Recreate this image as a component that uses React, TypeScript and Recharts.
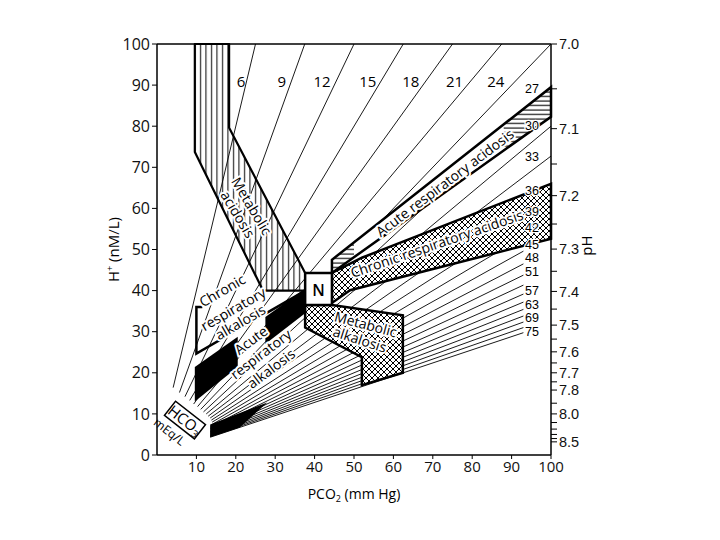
import React from 'react';
import { ComposedChart, XAxis, YAxis, ReferenceLine, ReferenceArea, Label } from 'recharts';

// HCO3- isopleths, mEq/L (one every 3)
const hco3Lines = [6, 9, 12, 15, 18, 21, 24, 27, 30, 33, 36, 39, 42, 45, 48, 51, 54, 57, 60, 63, 66, 69, 72, 75];
// PCO2 where each isopleth begins (next to the HCO3 box) and where it stops
const isoStart = [4.1, 5.7, 7.1, 8.3, 9.3, 10.3, 11.1, 11.8, 12.5, 13.0, 13.5, 13.8, 14.0, 14.0, 13.5, 13.5, 13.5, 13.5, 13.5, 13.5, 13.5, 13.5, 13.5, 13.5];
const isoEnd = [25, 37.5, 50, 62.5, 75, 87.5, 100, 100, 100, 100, 93, 93, 93, 93, 93, 93, 93, 93, 93, 93, 93, 93, 93, 93];

const topLabels = ['6', '9', '12', '15', '18', '21', '24'];
const topLabelP = [21.3, 31.7, 41.9, 53.5, 64.4, 75.5, 86];
const rightLabels = ['27', '30', '33', '36', '39', '42', '45', '48', '51', '57', '63', '69', '75'];
const rightLabelH = [89, 80, 72.5, 64.2, 59.2, 55.2, 51.2, 47.9, 44.6, 39.8, 36.6, 33.3, 29.9];

const xTicks = [10, 20, 30, 40, 50, 60, 70, 80, 90, 100];
const yTicks = [0, 10, 20, 30, 40, 50, 60, 70, 80, 90, 100];
const phLabels = ['7.0', '7.1', '7.2', '7.3', '7.4', '7.5', '7.6', '7.7', '7.8', '8.0', '8.5'];
const phTickH = [100, 79.4, 63.1, 50.1, 39.8, 31.6, 25.1, 20, 15.8, 10, 3.2];
const phMinorH = [89.1, 70.8, 56.2, 44.7, 35.5, 28.2, 22.4, 17.8, 12.6, 7.9, 6.3, 5.0, 4.0];

// regions, [PCO2, H+]
const metAcidosis = [[9.6, 100], [18.3, 100], [18.3, 79.6], [37.6, 44.3], [37.6, 40], [26.9, 40], [9.6, 73.7]];
const nBox = [[37.6, 36.5], [44.4, 36.5], [44.4, 44.3], [37.6, 44.3]];
const acuteAcidosis = [[44.4, 44.3], [44.4, 47.5], [100, 89.5], [100, 82.3]];
const acuteAcidosisHatchA = [[44.4, 44.3], [44.4, 47.5], [50, 51.7], [50, 48.1]];
const acuteAcidosisHatchB = [[88, 74.1], [88, 80.4], [100, 89.5], [100, 82.3]];
const chronicAcidosis = [[44.4, 37], [44.4, 44.3], [52, 48], [100, 66], [100, 52.6], [49, 40.1]];
const metAlkalosis = [[37.6, 36.5], [44.4, 36.5], [62.4, 34], [62.4, 20], [52, 17], [52, 23.8], [37.6, 31]];
const chronicAlkalosis = [[11.5, 36], [10, 36], [10, 24.7], [37.1, 39.7]];
const acuteAlkalosisA = [[9.6, 13], [9.6, 21.4], [20.5, 28.8], [20.5, 21.4]];
const acuteAlkalosisB = [[27.5, 27], [27.5, 33.6], [37.6, 40.5], [37.6, 34.5]];
const denseWedge = [[13.5, 7.4], [28, 12.8], [21, 6.7], [13.5, 4.3]];

const font = '"Open Sans", "DejaVu Sans", sans-serif';
const numFont = '"Liberation Sans", Arial, sans-serif';

const regionText = [
  { t: 'Acute respiratory acidosis', p: 73, h: 66.3, a: -37 },
  { t: 'Chronic respiratory acidosis', p: 71, h: 51.5, a: -19 },
  { t: 'Chronic', p: 16.5, h: 40.1, a: -30 },
  { t: 'respiratory', p: 19.3, h: 35.6, a: -30 },
  { t: 'alkalosis', p: 21.1, h: 32.4, a: -30 },
  { t: 'Acute', p: 23.8, h: 28, a: -37 },
  { t: 'respiratory', p: 26.3, h: 24.6, a: -37 },
  { t: 'alkalosis', p: 28.9, h: 21.1, a: -37 },
  { t: 'Metabolic', p: 24.1, h: 60.6, a: 59 },
  { t: 'acidosis', p: 20.6, h: 58.6, a: 59 },
  { t: 'Metabolic', p: 53, h: 31.9, a: 15 },
  { t: 'alkalosis', p: 51.5, h: 28.2, a: 18 },
];

const halo = { paintOrder: 'stroke', stroke: '#fff', strokeWidth: 4, strokeLinejoin: 'round' } as any;
const haloThin = { paintOrder: 'stroke', stroke: '#fff', strokeWidth: 2.5, strokeLinejoin: 'round' } as any;

function Overlay(props: any) {
  const { x, y, width, height } = props;
  const sx = (p: number) => x + (p / 100) * width;
  const sy = (h: number) => y + height - (h / 100) * height;
  const pts = (arr: number[][]) => arr.map(([p, h]) => `${sx(p)},${sy(h)}`).join(' ');
  return (
    <g>
      <defs>
        <pattern id="vh" width="5.5" height="6" patternUnits="userSpaceOnUse">
          <line x1="2.5" y1="0" x2="2.5" y2="6" stroke="#000" strokeWidth="1" />
        </pattern>
        <pattern id="hh" width="6" height="4.5" patternUnits="userSpaceOnUse">
          <line x1="0" y1="2" x2="6" y2="2" stroke="#000" strokeWidth="1.1" />
        </pattern>
        <pattern id="xh" width="6" height="6" patternUnits="userSpaceOnUse">
          <path d="M0,0 L6,6 M6,0 L0,6" stroke="#000" strokeWidth="1" />
        </pattern>
      </defs>
      <polygon points={pts(denseWedge)} fill="#000" />
      <polygon points={pts(metAcidosis)} fill="url(#vh)" stroke="#000" strokeWidth={2.2} strokeLinejoin="round" />
      <polygon points={pts(acuteAcidosis)} fill="#fff" stroke="#000" strokeWidth={2.5} />
      <polygon points={pts(acuteAcidosisHatchA)} fill="url(#hh)" />
      <polygon points={pts(acuteAcidosisHatchB)} fill="url(#hh)" />
      <polygon points={pts(chronicAcidosis)} fill="#fff" />
      <polygon points={pts(chronicAcidosis)} fill="url(#xh)" stroke="#000" strokeWidth={2.5} />
      <polygon points={pts(metAlkalosis)} fill="#fff" />
      <polygon points={pts(metAlkalosis)} fill="url(#xh)" stroke="#000" strokeWidth={2.5} />
      <polyline points={pts(chronicAlkalosis)} fill="none" stroke="#000" strokeWidth={2.5} />
      <polygon points={pts(acuteAlkalosisA)} fill="#000" />
      <polygon points={pts(acuteAlkalosisB)} fill="#000" />
      <polygon points={pts(nBox)} fill="#fff" stroke="#000" strokeWidth={2.5} />
      <text x={sx(41)} y={sy(40.2)} textAnchor="middle" dominantBaseline="central" fontFamily={font} fontSize={16} fontWeight={600}>N</text>

      {regionText.map((r, i) => (
        <text key={i} x={sx(r.p)} y={sy(r.h)} textAnchor="middle" dominantBaseline="central"
          transform={`rotate(${r.a} ${sx(r.p)} ${sy(r.h)})`} fontFamily={font} fontSize={14} style={halo}>
          {r.t}
        </text>
      ))}

      {topLabels.map((t, i) => (
        <text key={t} x={sx(topLabelP[i])} y={sy(91)} textAnchor="middle" dominantBaseline="central"
          fontFamily={font} fontSize={15}>{t}</text>
      ))}
      {rightLabels.map((t, i) => (
        <text key={t} x={sx(93.4)} y={sy(rightLabelH[i])} textAnchor="start" dominantBaseline="central"
          fontFamily={numFont} fontSize={12.5} style={haloThin}>{t}</text>
      ))}

      <g transform={`translate(${sx(7.1)} ${sy(8.5)}) rotate(38)`}>
        <rect x={-19} y={-9} width={38} height={18} fill="#fff" stroke="#000" strokeWidth={1.5} />
        <text x={0} y={5.5} textAnchor="middle" fontFamily={font} fontSize={15}>
          HCO<tspan fontSize={10} dy={3}>3</tspan>
        </text>
        <text x={-5} y={23} textAnchor="middle" fontFamily={font} fontSize={12}>mEq/L</text>
      </g>
    </g>
  );
}

const phTickFormat = (v: number) => {
  const i = phTickH.indexOf(v);
  return i >= 0 ? phLabels[i] : '';
};

export default function App() {
  return (
    <div style={{ position: 'absolute', left: 0, top: 0, width: 720, height: 540, background: '#fff' }}>
      <ComposedChart width={720} height={540} margin={{ top: 44, right: 109, bottom: 55, left: 97 }}>
        <XAxis type="number" dataKey="p" domain={[0, 100]} ticks={xTicks} allowDataOverflow
          height={30} tickSize={4} tick={{ fontSize: 15, fill: '#111', fontFamily: font }}
          axisLine={{ stroke: '#000', strokeWidth: 1.5 }} tickLine={{ stroke: '#000' }}>
          <Label content={(p: any) => {
            const vb = p.viewBox;
            return (
              <text x={vb.x + vb.width / 2} y={vb.y + 44} textAnchor="middle" fontFamily={font} fontSize={14}>
                PCO<tspan fontSize={9} dy={3}>2</tspan><tspan dy={-3}> (mm Hg)</tspan>
              </text>
            );
          }} />
        </XAxis>
        <YAxis yAxisId="left" type="number" domain={[0, 100]} ticks={yTicks} allowDataOverflow width={60}
          tickSize={5} tick={{ fontSize: 16, fill: '#111', fontFamily: font }}
          axisLine={{ stroke: '#000', strokeWidth: 1.5 }} tickLine={{ stroke: '#000' }}>
          <Label content={(p: any) => {
            const vb = p.viewBox;
            const cx = vb.x + 22;
            const cy = vb.y + vb.height / 2;
            return (
              <text x={cx} y={cy} textAnchor="middle" transform={`rotate(-90 ${cx} ${cy})`} fontFamily={font} fontSize={15}>
                H<tspan fontSize={9} dy={-6}>+</tspan><tspan dy={6}> (nM/L)</tspan>
              </text>
            );
          }} />
        </YAxis>
        <YAxis yAxisId="right" orientation="right" type="number" domain={[0, 100]} allowDataOverflow width={60}
          ticks={[...phTickH, ...phMinorH]} tickFormatter={phTickFormat} interval={0} tickSize={6}
          tick={{ fontSize: 14.5, fill: '#111', fontFamily: numFont }}
          axisLine={{ stroke: '#000', strokeWidth: 1.5 }} tickLine={{ stroke: '#000' }}>
          <Label content={(p: any) => {
            const vb = p.viewBox;
            const cx = vb.x + 41;
            const cy = vb.y + vb.height / 2 - 4;
            return (
              <text x={cx} y={cy} textAnchor="middle" transform={`rotate(-90 ${cx} ${cy})`} fontFamily={font} fontSize={15}>pH</text>
            );
          }} />
        </YAxis>

        <ReferenceLine yAxisId="left" y={100} stroke="#000" strokeWidth={1.5} zIndex={40} />
        {hco3Lines.map((k, i) => (
          <ReferenceLine key={k} yAxisId="left" ifOverflow="visible" zIndex={50}
            segment={[{ x: isoStart[i], y: (24 * isoStart[i]) / k }, { x: isoEnd[i], y: (24 * isoEnd[i]) / k }]}
            stroke="#000" strokeWidth={0.9} />
        ))}
        <ReferenceArea yAxisId="left" x1={0} x2={100} y1={0} y2={100} ifOverflow="visible" zIndex={150}
          shape={(p: any) => <Overlay {...p} />} />
      </ComposedChart>
    </div>
  );
}
